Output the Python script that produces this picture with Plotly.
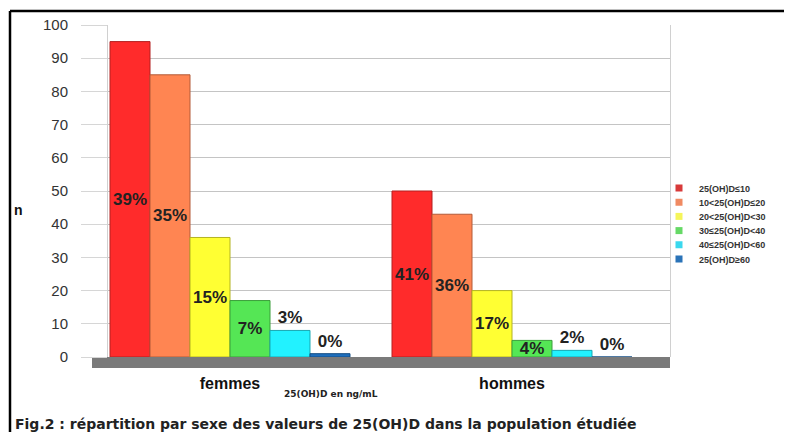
import plotly.graph_objects as go

categories = ["femmes", "hommes"]
series_names = ["25(OH)D≤10", "10<25(OH)D≤20", "20<25(OH)D<30",
                "30≤25(OH)D<40", "40≤25(OH)D<60", "25(OH)D≥60"]
femmes_n = [95, 85, 36, 17, 8, 1]
hommes_n = [50, 43, 20, 5, 2, 0]
femmes_pct = ["39%", "35%", "15%", "7%", "3%", "0%"]
hommes_pct = ["41%", "36%", "17%", "4%", "2%", "0%"]
y_ticks = [0, 10, 20, 30, 40, 50, 60, 70, 80, 90, 100]

colors = ["#ff2b2b", "#ff8552", "#ffff33", "#55e655", "#22f2ff", "#1e6fbd"]
edge = ["#b32020", "#b35a38", "#b3b322", "#3a9e3a", "#17a8b3", "#144d84"]
legend_colors = ["#d83a3a", "#f08a62", "#f5f55a", "#66d966", "#3ad8ee", "#2a73b8"]
# text placement per bar (style only)
pos_f = ["inside", "inside", "inside", "inside", "outside", "outside"]
pos_h = ["inside", "inside", "inside", "inside", "outside", "outside"]

# page offset from default body margin
OFF = 8
W, H = 792 - OFF, 432 - OFF
PL, PR, PT, PB = 108, 670, 25, 357   # target plot box in page pixels
L, R, T, B = PL - OFF, W - (PR - OFF), PT - OFF, H - (PB - OFF)
pw, ph = W - L - R, H - T - B

def px(x):
    return (x - OFF - L) / pw

def py(y):
    return (H - B - (y - OFF)) / ph

fig = go.Figure()
for i, name in enumerate(series_names):
    fig.add_trace(go.Bar(
        name=name,
        x=categories,
        y=[femmes_n[i], hommes_n[i]],
        text=[femmes_pct[i], hommes_pct[i]],
        textposition=[pos_f[i], pos_h[i]],
        textangle=0,
        insidetextanchor="middle",
        textfont=dict(family="Liberation Sans, Arial", size=17, color="#222222", weight="bold"),
        marker=dict(color=colors[i], line=dict(color=edge[i], width=1)),
        cliponaxis=False,
        showlegend=False,
    ))

# legend entries (one small legend per series for tight spacing)
legend_layout = {}
for i, name in enumerate(series_names):
    key = "legend" if i == 0 else f"legend{i + 1}"
    fig.add_trace(go.Scatter(
        name=name, x=[None], y=[None], mode="markers",
        marker=dict(symbol="square", size=7, color=legend_colors[i]),
        legend=key, showlegend=True, hoverinfo="skip",
    ))
    legend_layout[key] = dict(
        x=px(659), y=py(188 + i * 14.2), xanchor="left", yanchor="middle",
        font=dict(family="Liberation Sans, Arial", size=9, color="#333333", weight="bold"),
        itemwidth=30, bgcolor="rgba(0,0,0,0)", borderwidth=0,
    )

fig.update_layout(
    width=W, height=H,
    margin=dict(l=L, r=R, t=T, b=B, pad=0, autoexpand=False),
    paper_bgcolor="white", plot_bgcolor="white",
    barmode="group", bargap=0.149, bargroupgap=0,
    uniformtext=dict(minsize=17, mode="show"),
    font=dict(family="Liberation Sans, Arial", color="#333333"),
    showlegend=True,
    **legend_layout,
)
fig.update_xaxes(
    range=[(PL - 230) / 282, (PR - 230) / 282],
    showgrid=False, zeroline=False, showline=False,
    tickfont=dict(family="Liberation Sans, Arial", size=16, color="#111111", weight="bold"),
    ticklabelstandoff=15,
)
fig.update_yaxes(
    range=[0, 100], tickvals=y_ticks,
    showgrid=True, gridcolor="#c4c4c4", gridwidth=1,
    zeroline=False, showline=True, linecolor="#d0d0d0", mirror=True,
    ticks="outside", ticklen=26, tickcolor="#d6d6d6",
    tickfont=dict(family="Liberation Sans, Arial", size=15, color="#333333"),
    ticklabelstandoff=10,
)

# floor slab
fig.add_shape(type="rect", xref="paper", yref="paper",
              x0=px(92), x1=px(670), y0=py(368), y1=py(357),
              fillcolor="#7a7a7a", line=dict(width=0), layer="below")
# frame lines
fig.add_shape(type="line", xref="paper", yref="paper",
              x0=px(10), x1=px(10), y0=py(11), y1=py(440),
              line=dict(color="black", width=2.5))
fig.add_shape(type="line", xref="paper", yref="paper",
              x0=px(10), x1=px(800), y0=py(11), y1=py(11),
              line=dict(color="black", width=2.5))

fig.add_annotation(text="<b>n</b>", xref="paper", yref="paper",
                   x=px(18), y=py(210), xanchor="center", yanchor="middle",
                   showarrow=False,
                   font=dict(family="Liberation Sans, Arial", size=14, color="#111111"))
fig.add_annotation(text="<b>25(OH)D en ng/mL</b>", xref="paper", yref="paper",
                   x=px(331), y=py(393.5), xanchor="center", yanchor="middle",
                   showarrow=False,
                   font=dict(family="DejaVu Sans", size=9, color="#222222"))
fig.add_annotation(text="<b>Fig.2 : répartition par sexe des valeurs de 25(OH)D dans la population étudiée</b>",
                   xref="paper", yref="paper", x=px(13), y=py(424),
                   xanchor="left", yanchor="middle", showarrow=False,
                   font=dict(family="DejaVu Sans", size=14, color="#222222"))

fig.write_html("out.html")
